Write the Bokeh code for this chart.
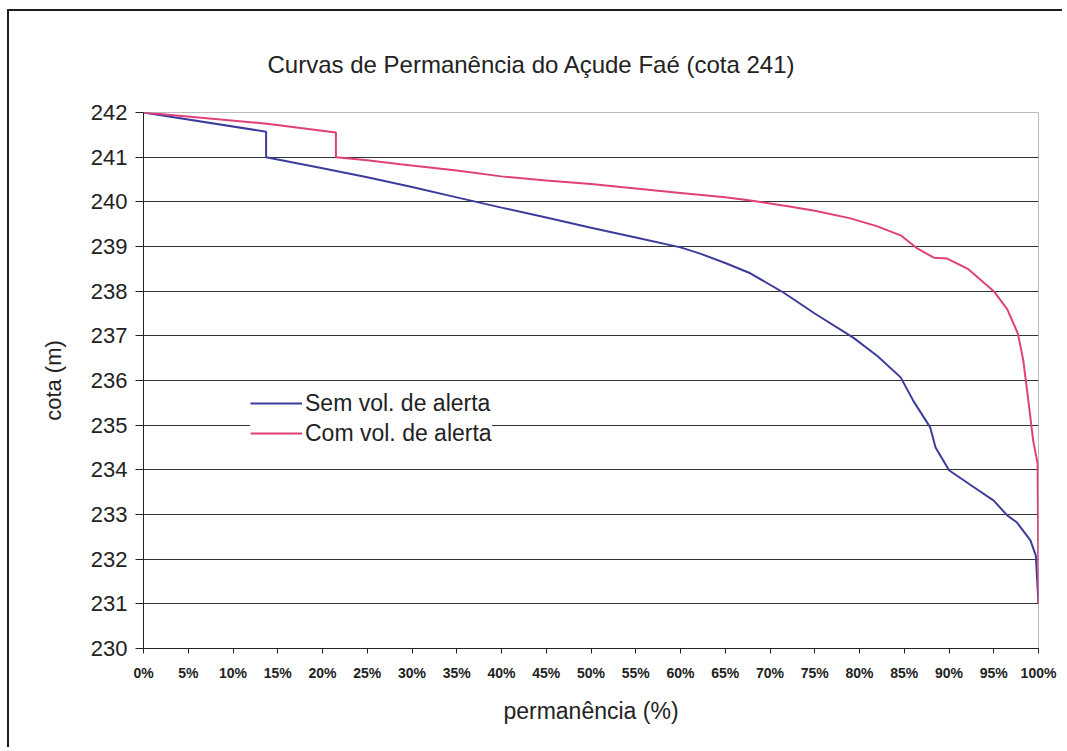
from bokeh.plotting import figure
from bokeh.embed import file_html
from bokeh.resources import INLINE
from bokeh.layouts import column
from bokeh.models import FixedTicker, PrintfTickFormatter, Legend, LegendItem, ColumnDataSource

title_text = "Curvas de Permanência do Açude Faé (cota 241)"
x_label = "permanência (%)"
y_label = "cota (m)"
series_names = ["Sem vol. de alerta", "Com vol. de alerta"]

x_ticks = list(range(0, 101, 5))
y_ticks = list(range(230, 243))

sem_x = [0, 13.7, 13.7, 20, 25, 30, 35, 40, 45, 50, 55, 60, 62.2, 65, 67.8, 71.5, 75,
         79.3, 82, 84.6, 86.0, 87.9, 88.5, 90.0, 92.5, 95.0, 96.5, 97.6, 99.1, 99.7, 100]
sem_y = [242, 241.57, 241.0, 240.75, 240.55, 240.33, 240.1, 239.87, 239.65, 239.42, 239.2,
         238.98, 238.84, 238.63, 238.4, 237.97, 237.5, 236.96, 236.55, 236.07, 235.55,
         234.95, 234.5, 233.99, 233.65, 233.31, 232.98, 232.82, 232.42, 232.08, 231.0]

com_x = [0, 13.8, 21.5, 21.5, 25, 28.7, 35, 40, 45, 50, 55, 60, 65, 67.8, 72, 75, 79, 82,
         84.6, 86.5, 88.3, 89.8, 92.1, 95.0, 96.5, 97.7, 98.3, 98.9, 99.4, 99.9, 100]
com_y = [242, 241.75, 241.55, 241.0, 240.93, 240.84, 240.7, 240.57, 240.48, 240.4, 240.3,
         240.2, 240.1, 240.03, 239.9, 239.8, 239.63, 239.45, 239.25, 238.95, 238.75, 238.73,
         238.5, 238.0, 237.6, 237.05, 236.45, 235.5, 234.66, 234.14, 231.0]

FONT = "Liberation Sans"
BLUE = "#3c3c9c"
PINK = "#e0407a"

p = figure(width=1055, height=738, output_backend="svg", toolbar_location=None,
           x_range=(0, 100), y_range=(230, 242), title=title_text,
           min_border_left=134, min_border_right=26, min_border_top=101, min_border_bottom=101)
p.styles = {"margin-left": "7px", "margin-top": "9px",
            "border-left": "2px solid #1e1e1e", "border-top": "2px solid #1e1e1e"}

p.title.text_font = FONT
p.title.text_font_size = "24px"
p.title.text_font_style = "normal"
p.title.text_color = "#222222"
p.title.align = "left"
p.title.offset = 124
p.title.standoff = 69

p.background_fill_color = "white"
p.border_fill_color = "white"
p.outline_line_color = "#bbbbbb"
p.outline_line_width = 1

p.xaxis.ticker = FixedTicker(ticks=x_ticks)
p.xaxis.formatter = PrintfTickFormatter(format="%d%%")
p.yaxis.ticker = FixedTicker(ticks=y_ticks)

for ax in (p.xaxis[0], p.yaxis[0]):
    ax.axis_line_color = "#222222"
    ax.major_tick_line_color = "#222222"
    ax.minor_tick_line_color = None
    ax.major_tick_in = 0
    ax.major_label_text_font = FONT
    ax.major_label_text_color = "#222222"
    ax.axis_label_text_font = FONT
    ax.axis_label_text_font_style = "normal"
    ax.axis_label_text_color = "#222222"

p.xaxis.major_tick_out = 5
p.xaxis.major_label_text_font_size = "14px"
p.xaxis.major_label_text_font_style = "bold"
p.xaxis.major_label_standoff = 11
p.xaxis.axis_label = x_label
p.xaxis.axis_label_text_font_size = "23px"
p.xaxis.axis_label_standoff = 14

p.yaxis.major_tick_out = 8
p.yaxis.major_label_text_font_size = "22px"
p.yaxis.major_label_standoff = 8
p.yaxis.axis_label = y_label
p.yaxis.axis_label_text_font_size = "22px"
p.yaxis.axis_label_standoff = 22

p.xgrid.grid_line_color = None
p.ygrid.grid_line_color = "#333333"
p.ygrid.grid_line_width = 1

src_sem = ColumnDataSource(dict(x=sem_x, y=sem_y))
src_com = ColumnDataSource(dict(x=com_x, y=com_y))
r1 = p.line("x", "y", source=src_sem, line_color=BLUE, line_width=2)
r2 = p.line("x", "y", source=src_com, line_color=PINK, line_width=2)

legend = Legend(items=[LegendItem(label=series_names[0], renderers=[r1]),
                       LegendItem(label=series_names[1], renderers=[r2])],
                location=(107, 201))
legend.label_text_font = FONT
legend.label_text_font_size = "23px"
legend.label_text_color = "#222222"
legend.glyph_width = 52
legend.glyph_height = 28
legend.label_standoff = 3
legend.spacing = 2
legend.padding = 6
legend.margin = 0
legend.border_line_color = None
legend.background_fill_color = "white"
legend.background_fill_alpha = 1
p.add_layout(legend, "center")

open("out.html", "w").write(file_html(p, INLINE))
